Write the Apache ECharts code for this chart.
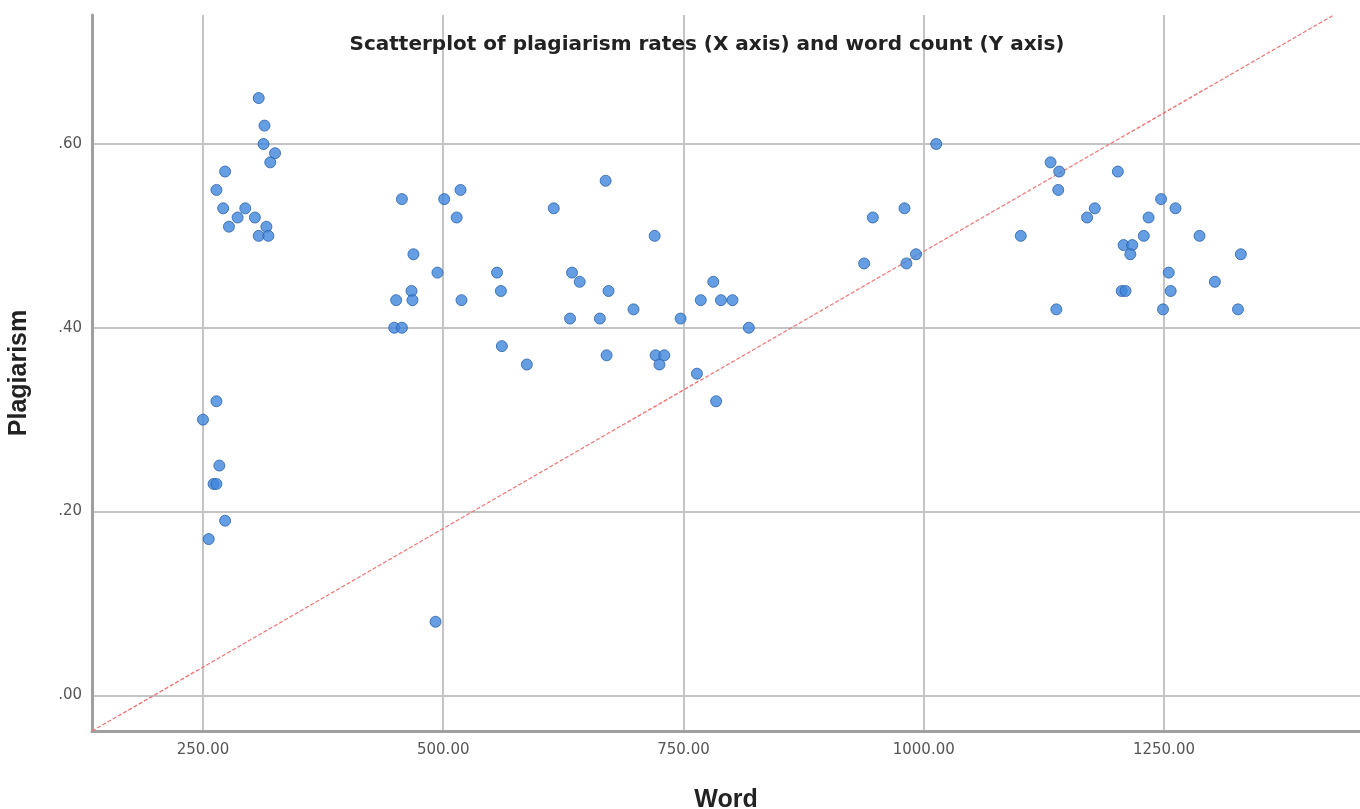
<!DOCTYPE html>
<html>
<head>
<meta charset="utf-8">
<script src="https://cdn.jsdelivr.net/npm/echarts@6/dist/echarts.min.js"></script>
<style>
  html, body { margin: 0; padding: 0; background: #fff; }
  #chart { width: 1360px; height: 809px; }
</style>
</head>
<body>
<div id="chart"></div>
<script>
// word count (x) and plagiarism rate (y) for every case
const wordCounts = [
  308, 314, 313, 325, 320, 273, 264, 271, 294, 286, 304, 277, 316, 308, 318,
  264, 250, 267, 261, 264, 273, 256, 492,
  669, 457, 501, 518, 615, 514, 469, 494, 556, 634, 642, 467, 560, 672,
  451, 468, 519, 632, 663, 449, 457, 561, 587, 670,
  720, 781, 698, 768, 789, 801, 747, 818, 721, 730, 725, 764, 784,
  1013, 947, 980, 938, 982, 992, 1132, 1141, 1140, 1101, 1138, 1170, 1178,
  1202, 1247, 1262, 1234, 1229, 1287, 1208, 1217, 1215, 1330, 1255, 1303,
  1206, 1210, 1257, 1249, 1327
];
const plagiarism = [
  0.65, 0.62, 0.60, 0.59, 0.58, 0.57, 0.55, 0.53, 0.53, 0.52, 0.52, 0.51, 0.51, 0.50, 0.50,
  0.32, 0.30, 0.25, 0.23, 0.23, 0.19, 0.17, 0.08,
  0.56, 0.54, 0.54, 0.55, 0.53, 0.52, 0.48, 0.46, 0.46, 0.46, 0.45, 0.44, 0.44, 0.44,
  0.43, 0.43, 0.43, 0.41, 0.41, 0.40, 0.40, 0.38, 0.36, 0.37,
  0.50, 0.45, 0.42, 0.43, 0.43, 0.43, 0.41, 0.40, 0.37, 0.37, 0.36, 0.35, 0.32,
  0.60, 0.52, 0.53, 0.47, 0.47, 0.48, 0.58, 0.57, 0.55, 0.50, 0.42, 0.52, 0.53,
  0.57, 0.54, 0.53, 0.52, 0.50, 0.50, 0.49, 0.49, 0.48, 0.48, 0.46, 0.45,
  0.44, 0.44, 0.44, 0.42, 0.42
];

// dashed reference line end points
const refLineX = [134.5, 1426];
const refLineY = [-0.039, 0.740];

const xTicks = [250, 500, 750, 1000, 1250];
const yTicks = [0, 0.2, 0.4, 0.6];

const points = wordCounts.map((w, i) => [w, plagiarism[i]]);
const refLine = refLineX.map((x, i) => [x, refLineY[i]]);

const chart = echarts.init(document.getElementById('chart'));

const option = {
  backgroundColor: '#fff',
  animation: false,
  title: {
    text: 'Scatterplot of plagiarism rates (X axis) and word count (Y axis)',
    left: 702,
    top: 30,
    textAlign: 'center',
    textStyle: {
      fontFamily: 'DejaVu Sans',
      fontWeight: 'bold',
      fontSize: 20,
      color: '#222'
    }
  },
  grid: {
    left: 92,
    top: 15,
    right: 0,
    bottom: 78,
    outerBoundsMode: 'none'
  },
  xAxis: {
    type: 'value',
    min: 134.5,
    max: 1454,
    name: 'Word',
    nameLocation: 'middle',
    nameGap: 57,
    nameTextStyle: {
      fontFamily: 'Liberation Sans',
      fontWeight: 'bold',
      fontSize: 25,
      color: '#222'
    },
    axisLine: { show: true, onZero: false, lineStyle: { color: '#a0a0a0', width: 3 } },
    axisTick: { show: false, customValues: xTicks },
    axisLabel: {
      customValues: xTicks,
      margin: 12,
      fontFamily: 'DejaVu Sans',
      fontSize: 15,
      color: '#555',
      formatter: v => v.toFixed(2)
    },
    splitLine: { show: true, lineStyle: { color: '#c4c4c4', width: 2 } }
  },
  yAxis: {
    type: 'value',
    min: -0.0389,
    max: 0.7404,
    name: 'Plagiarism',
    nameLocation: 'middle',
    nameGap: 60,
    nameTextStyle: {
      fontFamily: 'Liberation Sans',
      fontWeight: 'bold',
      fontSize: 25,
      color: '#222'
    },
    axisLine: { show: true, onZero: false, lineStyle: { color: '#a0a0a0', width: 3 } },
    axisTick: { show: false, customValues: yTicks },
    axisLabel: {
      customValues: yTicks,
      margin: 10,
      fontFamily: 'DejaVu Sans',
      fontSize: 15,
      color: '#555',
      formatter: v => v.toFixed(2).replace(/^0/, '')
    },
    splitLine: { show: true, lineStyle: { color: '#c4c4c4', width: 2 } }
  },
  series: [
    {
      type: 'line',
      data: refLine,
      symbol: 'none',
      lineStyle: { color: '#f07070', width: 1.2, type: [4, 2] },
      z: 2
    },
    {
      type: 'scatter',
      data: points,
      symbolSize: 11,
      itemStyle: {
        color: '#3f86dc',
        borderColor: '#2a62a8',
        borderWidth: 1
      },
      z: 3
    }
  ]
};

chart.setOption(option);
</script>
</body>
</html>
